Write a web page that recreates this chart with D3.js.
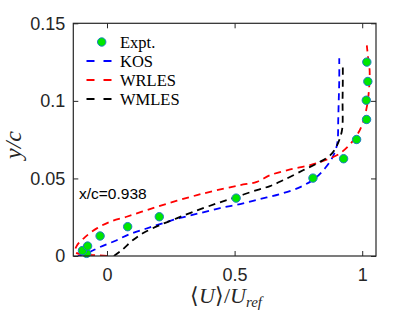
<!DOCTYPE html>
<html><head><meta charset="utf-8">
<script src="https://cdn.jsdelivr.net/npm/d3@7"></script>
<style>body{margin:0;background:#fff}svg{display:block}</style>
</head><body>
<svg id="c" width="415" height="312"></svg>
<script>
// ---- data ----
const exptU = [-0.080, -0.096, -0.076, -0.027, 0.081, 0.205, 0.506, 0.807, 0.927, 0.978, 1.017, 1.016, 1.022, 1.018];
const exptY = [0.0017, 0.0035, 0.0064, 0.0129, 0.0189, 0.0253, 0.0373, 0.0502, 0.0627, 0.0751, 0.0880, 0.1004, 0.1125, 0.1250];

const kosU = [-0.114, -0.078, -0.027, 0.031, 0.090, 0.149, 0.208, 0.286, 0.365, 0.443, 0.522, 0.600, 0.678, 0.757, 0.816, 0.855, 0.882, 0.898, 0.904, 0.906, 0.908, 0.910, 0.910];
const kosY = [0.0, 0.0019, 0.0058, 0.0097, 0.0142, 0.0174, 0.0206, 0.0245, 0.0277, 0.0309, 0.0335, 0.0367, 0.0399, 0.0444, 0.0502, 0.0567, 0.0631, 0.0695, 0.0747, 0.0876, 0.1004, 0.1133, 0.1275];

const wrU = [0.0, -0.047, -0.106, -0.125, -0.119, -0.086, -0.040, 0.012, 0.077, 0.156, 0.239, 0.325, 0.404, 0.522, 0.587, 0.639, 0.718, 0.796, 0.855, 0.914, 0.966, 0.999, 1.018, 1.027, 1.029, 1.022, 1.018];
const wrY = [0.0, 0.0006, 0.0013, 0.0026, 0.0064, 0.0122, 0.0178, 0.0221, 0.0253, 0.0296, 0.0339, 0.0380, 0.0414, 0.0457, 0.0478, 0.0521, 0.0558, 0.0586, 0.0618, 0.0663, 0.0747, 0.0843, 0.0961, 0.1082, 0.1197, 0.1294, 0.1358];

const wmU = [0.027, 0.059, 0.102, 0.142, 0.208, 0.273, 0.338, 0.430, 0.509, 0.587, 0.639, 0.691, 0.770, 0.835, 0.875, 0.898, 0.914, 0.922, 0.923, 0.924, 0.924];
const wmY = [0.0, 0.0039, 0.0103, 0.0148, 0.0200, 0.0243, 0.0285, 0.0339, 0.0382, 0.0425, 0.0451, 0.0489, 0.0554, 0.0607, 0.0650, 0.0702, 0.0766, 0.0824, 0.1004, 0.1133, 0.1243];

const xTicks = [0, 0.5, 1];
const yTicks = [0, 0.05, 0.1, 0.15];
const xTickLabels = ["0", "0.5", "1"];
const yTickLabels = ["0", "0.05", "0.1", "0.15"];
const seriesNames = ["Expt.", "KOS", "WRLES", "WMLES"];
const seriesColors = ["#00e600", "#0000ff", "#ff0000", "#000000"];
const annotation = "x/c=0.938";

// ---- layout ----
const L = 73.3, R = 376, T = 23.3, B = 256;
const svg = d3.select("#c");
const x = d3.scaleLinear().domain([-0.132, 1.054]).range([L, R]);
const y = d3.scaleLinear().domain([0, 0.15]).range([B, T]);
const axisCol = "#262626";

const defs = svg.append("defs");
defs.append("clipPath").attr("id", "clip").append("rect")
  .attr("x", L).attr("y", T).attr("width", R - L).attr("height", B - T);

const plot = svg.append("g").attr("clip-path", "url(#clip)");
const line = d3.line().x(d => x(d[0])).y(d => y(d[1])).curve(d3.curveCatmullRom.alpha(0.5));
const mk = (u, v) => u.map((d, i) => [d, v[i]]);

const curves = [[kosU, kosY, seriesColors[1]], [wrU, wrY, seriesColors[2]], [wmU, wmY, seriesColors[3]]];
curves.forEach(([u, v, c]) => {
  plot.append("path").attr("d", line(mk(u, v)))
    .attr("fill", "none").attr("stroke", c).attr("stroke-width", 1.8)
    .attr("stroke-dasharray", "7,5");
});

svg.append("g").selectAll("circle").data(mk(exptU, exptY)).join("circle")
  .attr("cx", d => x(d[0])).attr("cy", d => y(d[1])).attr("r", 4.2)
  .attr("fill", seriesColors[0]).attr("stroke", "#1a7fc4").attr("stroke-width", 1);

// ---- axes ----
const tickLen = 5;
const gx = svg.append("g").attr("transform", `translate(0,${B})`)
  .call(d3.axisBottom(x).tickValues(xTicks).tickFormat((d, i) => xTickLabels[i]).tickSizeInner(-tickLen).tickSizeOuter(0).tickPadding(12));
const gxt = svg.append("g").attr("transform", `translate(0,${T})`)
  .call(d3.axisTop(x).tickValues(xTicks).tickFormat("").tickSizeInner(-tickLen).tickSizeOuter(0));
const gy = svg.append("g").attr("transform", `translate(${L},0)`)
  .call(d3.axisLeft(y).tickValues(yTicks).tickFormat((d, i) => yTickLabels[i]).tickSizeInner(-tickLen).tickSizeOuter(0).tickPadding(8));
const gyr = svg.append("g").attr("transform", `translate(${R},0)`)
  .call(d3.axisRight(y).tickValues(yTicks).tickFormat("").tickSizeInner(-tickLen).tickSizeOuter(0));
[gx, gxt, gy, gyr].forEach(g => {
  g.select(".domain").remove();
  g.selectAll("line").attr("stroke", axisCol).attr("stroke-width", 1);
  g.selectAll("text").attr("fill", axisCol).style("font-family", "'Liberation Sans', Arial, sans-serif").style("font-size", "18px");
});
svg.append("rect").attr("x", L).attr("y", T).attr("width", R - L).attr("height", B - T)
  .attr("fill", "none").attr("stroke", axisCol).attr("stroke-width", 1.2);

// ---- axis labels ----
const serif = "'Liberation Serif', 'Times New Roman', serif";
const xl = svg.append("text").attr("x", 226).attr("y", 303).attr("text-anchor", "middle")
  .style("font-family", serif).style("font-size", "22px").attr("fill", axisCol);
xl.append("tspan").text("\u27E8");
xl.append("tspan").style("font-style", "italic").text("U");
xl.append("tspan").text("\u27E9/");
xl.append("tspan").style("font-style", "italic").text("U");
xl.append("tspan").style("font-style", "italic").style("font-size", "15px").attr("dy", 4).text("ref");

svg.append("text").attr("transform", "translate(21,145) rotate(-90)").attr("text-anchor", "middle")
  .style("font-family", serif).style("font-size", "24px").style("font-style", "italic").attr("fill", axisCol)
  .text("y/c");

// ---- annotation ----
svg.append("text").attr("x", 79).attr("y", 199).text(annotation)
  .style("font-family", "'Liberation Sans', Arial, sans-serif").style("font-size", "15.5px").attr("fill", "#000");

// ---- legend ----
const lg = svg.append("g");
const ly = [42, 61, 80, 99];
seriesNames.forEach((n, i) => {
  if (i === 0) {
    lg.append("circle").attr("cx", 101.7).attr("cy", ly[i]).attr("r", 4.2)
      .attr("fill", seriesColors[0]).attr("stroke", "#1a7fc4").attr("stroke-width", 1);
  } else {
    lg.append("line").attr("x1", 86.5).attr("x2", 111.5).attr("y1", ly[i]).attr("y2", ly[i])
      .attr("stroke", seriesColors[i]).attr("stroke-width", 1.8).attr("stroke-dasharray", "8,9");
  }
  lg.append("text").attr("x", 120).attr("y", ly[i] + 5.5).text(n)
    .style("font-family", serif).style("font-size", "16.5px").attr("fill", "#000");
});
</script>
</body></html>
